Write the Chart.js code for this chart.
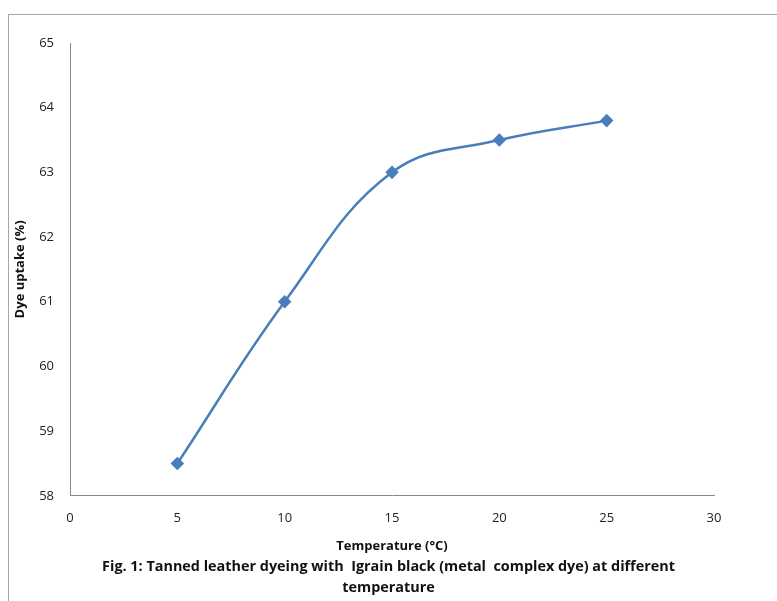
<!DOCTYPE html>
<html>
<head>
<meta charset="utf-8">
<script src="https://cdn.jsdelivr.net/npm/chart.js@4"></script>
<style>
  html, body { margin: 0; padding: 0; background: #fff; overflow: hidden; }
  #wrap { position: relative; width: 777px; height: 601px; }
  #frame { position: absolute; left: 8px; top: 14px; width: 900px; height: 900px;
           border-left: 1px solid #a6a6a6; border-top: 1px solid #a6a6a6; }
  canvas { position: absolute; left: 0; top: 0; }
</style>
</head>
<body>
<div id="wrap">
  <div id="frame"></div>
  <canvas id="dyeChart" width="777" height="601"></canvas>
</div>
<script>
// temperature vs dye uptake
const temperatures = [5, 10, 15, 20, 25];
const dyeUptake = [58.5, 61, 63, 63.5, 63.8];
const xTicks = [0, 5, 10, 15, 20, 25, 30];
const yTicks = [58, 59, 60, 61, 62, 63, 64, 65];

const caption = [
    'Fig. 1: Tanned leather dyeing with  Igrain black (metal  complex dye) at different',
    'temperature'
];

const tickFont = { family: 'Open Sans', size: 13 };
const boldFont = { family: 'Open Sans', size: 13, weight: 'bold' };

function renderChart() {
    const ctx = document.getElementById('dyeChart').getContext('2d');
    new Chart(ctx, {
        type: 'line',
        data: {
            datasets: [{
                label: 'Dye uptake',
                data: temperatures.map((t, i) => ({ x: t, y: dyeUptake[i] })),
                borderColor: '#4a7ebb',
                backgroundColor: '#4a7ebb',
                borderWidth: 2.5,
                pointStyle: 'rectRot',
                pointRadius: 5,
                pointHoverRadius: 5,
                tension: 0.4,
                fill: false
            }]
        },
        options: {
            responsive: false,
            animation: false,
            layout: { padding: { left: 0, right: 0, top: 43, bottom: 0 } },
            plugins: {
                legend: { display: false },
                tooltip: { enabled: false },
                title: {
                    display: true,
                    position: 'bottom',
                    text: caption,
                    color: '#111',
                    font: { family: 'Open Sans', size: 14.4, weight: 'bold', lineHeight: 1.5 },
                    padding: { top: 2, bottom: 2 }
                }
            },
            scales: {
                x: {
                    type: 'linear',
                    min: 0,
                    max: 30,
                    afterBuildTicks: s => { s.ticks = xTicks.map(v => ({ value: v })); },
                    afterFit: s => { s.height = 58; },
                    grid: { display: false, drawTicks: false },
                    border: { display: true, color: '#888', width: 1 },
                    ticks: { color: '#222', font: tickFont, padding: 15, maxRotation: 0 },
                    title: { display: true, text: 'Temperature (°C)', color: '#111', font: boldFont, padding: 0 }
                },
                y: {
                    min: 58,
                    max: 65,
                    afterBuildTicks: s => { s.ticks = yTicks.map(v => ({ value: v })); },
                    afterFit: s => { s.width = 70; },
                    grid: { display: false, drawTicks: false },
                    border: { display: true, color: '#888', width: 1 },
                    ticks: { color: '#222', font: tickFont, padding: 16 },
                    title: { display: true, text: 'Dye uptake (%)', color: '#111', font: boldFont, padding: 12 }
                },
                // empty spacer on the right so the plot ends where the original does
                yRight: {
                    position: 'right',
                    min: 58,
                    max: 65,
                    afterFit: s => { s.width = 63; },
                    grid: { display: false, drawTicks: false },
                    border: { display: false },
                    ticks: { display: false }
                }
            }
        }
    });
}

document.addEventListener('DOMContentLoaded', () => {
    renderChart();
});
</script>
</body>
</html>
